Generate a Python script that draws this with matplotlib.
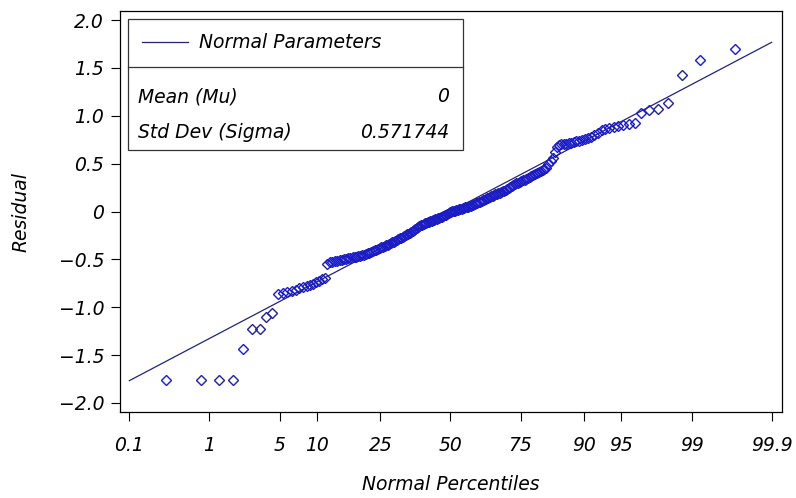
import numpy as np
import matplotlib
matplotlib.use("Agg")
import matplotlib.pyplot as plt
from matplotlib.patches import Rectangle
from matplotlib.lines import Line2D
from statistics import NormalDist

# sorted residuals (n = 200)
residuals = [
    -1.76, -1.76, -1.76, -1.76, -1.44, -1.23, -1.23, -1.10, -1.06, -0.86,
    -0.85, -0.84, -0.83, -0.82, -0.80, -0.79, -0.78, -0.77, -0.76, -0.74,
    -0.73, -0.71, -0.69, -0.55, -0.53, -0.53, -0.52, -0.52, -0.51, -0.51,
    -0.50, -0.50, -0.49, -0.49, -0.48, -0.48, -0.47, -0.46, -0.46, -0.45,
    -0.45, -0.44, -0.43, -0.43, -0.42, -0.41, -0.40, -0.40, -0.39, -0.38,
    -0.37, -0.37, -0.36, -0.35, -0.35, -0.34, -0.33, -0.32, -0.32, -0.31,
    -0.30, -0.29, -0.28, -0.28, -0.27, -0.26, -0.25, -0.24, -0.23, -0.22,
    -0.21, -0.20, -0.19, -0.18, -0.17, -0.16, -0.15, -0.14, -0.14, -0.13,
    -0.12, -0.12, -0.11, -0.11, -0.10, -0.10, -0.09, -0.09, -0.08, -0.08,
    -0.07, -0.07, -0.06, -0.06, -0.05, -0.04, -0.04, -0.03, -0.02, -0.01,
    0.00, 0.01, 0.01, 0.01, 0.02, 0.02, 0.03, 0.03, 0.03, 0.04,
    0.04, 0.05, 0.05, 0.05, 0.06, 0.06, 0.07, 0.07, 0.08, 0.09,
    0.09, 0.10, 0.10, 0.11, 0.12, 0.12, 0.13, 0.14, 0.14, 0.15,
    0.16, 0.16, 0.17, 0.18, 0.18, 0.19, 0.19, 0.20, 0.21, 0.21,
    0.22, 0.24, 0.25, 0.26, 0.27, 0.28, 0.29, 0.30, 0.30, 0.31,
    0.32, 0.33, 0.33, 0.34, 0.35, 0.36, 0.37, 0.38, 0.39, 0.40,
    0.41, 0.42, 0.43, 0.44, 0.45, 0.50, 0.53, 0.56, 0.62, 0.67,
    0.69, 0.70, 0.71, 0.71, 0.72, 0.72, 0.73, 0.74, 0.74, 0.75,
    0.76, 0.77, 0.78, 0.80, 0.82, 0.85, 0.86, 0.87, 0.88, 0.89,
    0.90, 0.91, 0.92, 1.03, 1.06, 1.07, 1.13, 1.43, 1.58, 1.70,
]

mu = 0.0
sigma = 0.571744

pct_ticks = [0.1, 1, 5, 10, 25, 50, 75, 90, 95, 99, 99.9]
pct_labels = ["0.1", "1", "5", "10", "25", "50", "75", "90", "95", "99", "99.9"]
y_ticks = [2.0, 1.5, 1.0, 0.5, 0, -0.5, -1.0, -1.5, -2.0]
y_labels = ["2.0", "1.5", "1.0", "0.5", "0", "\u22120.5", "\u22121.0", "\u22121.5", "\u22122.0"]

nd = NormalDist()
n = len(residuals)
# Blom plotting positions, as SAS does
z = np.array([nd.inv_cdf((i - 0.375) / (n + 0.25)) for i in range(1, n + 1)])
z_ticks = [nd.inv_cdf(p / 100) for p in pct_ticks]

plt.rcParams['font.family'] = ['DejaVu Sans']
plt.rcParams['font.style'] = 'italic'
fs = 13.5

W, H = 796, 498
fig = plt.figure(figsize=(W / 100, H / 100), dpi=100)
ax = fig.add_axes([120 / W, 1 - 412 / H, 662 / W, 401 / H])

line_col = '#22227a'
pt_col = '#1c1cc4'

# reference line over 0.1 .. 99.9 percentiles
zl = np.array([z_ticks[0], z_ticks[-1]])
ax.plot(zl, mu + sigma * zl, color=line_col, lw=0.9, zorder=2)
ax.plot(z, residuals, linestyle='none', marker='D', ms=4.6,
        mfc='none', mec=pt_col, mew=1.0, zorder=3)

ax.set_xlim(-3.18, 3.19)
ax.set_ylim(-2.094, 2.094)
ax.set_xticks(z_ticks)
ax.set_xticklabels(pct_labels)
ax.set_yticks(y_ticks)
ax.set_yticklabels(y_labels)
ax.tick_params(direction='out', length=6.5, width=0.8, labelsize=fs)
ax.tick_params(axis='x', pad=11)
ax.tick_params(axis='y', pad=5)
for s in ax.spines.values():
    s.set_linewidth(0.9)
ax.set_xlabel('Normal Percentiles', fontsize=fs)
ax.set_ylabel('Residual', fontsize=fs)
ax.xaxis.set_label_coords(0.5, (412 - 475) / 401)
ax.yaxis.set_label_coords((31 - 120) / 662, 0.5)

# legend / parameter box in pixel coordinates
def fx(px):
    return px / W

def fy(py):
    return 1 - py / H

box = Rectangle((fx(128), fy(150)), fx(463) - fx(128), fy(19) - fy(150),
                transform=fig.transFigure, fill=True, fc='white',
                ec='#333333', lw=0.9, zorder=5)
fig.patches.append(box)
fig.lines.append(Line2D([fx(128), fx(463)], [fy(67), fy(67)], zorder=6,
                        transform=fig.transFigure, color='#333333', lw=0.9))
fig.lines.append(Line2D([fx(142), fx(188)], [fy(42), fy(42)], zorder=6,
                        transform=fig.transFigure, color=line_col, lw=0.9))
txt = dict(fontsize=fs, va='center', zorder=7)
fig.text(fx(199), fy(43), 'Normal Parameters', **txt)
fig.text(fx(138), fy(97), 'Mean (Mu)', **txt)
fig.text(fx(449), fy(97), '0', ha='right', **txt)
fig.text(fx(138), fy(132), 'Std Dev (Sigma)', **txt)
fig.text(fx(449), fy(132), '0.571744', ha='right', **txt)

fig.savefig('out.png', dpi=100)
